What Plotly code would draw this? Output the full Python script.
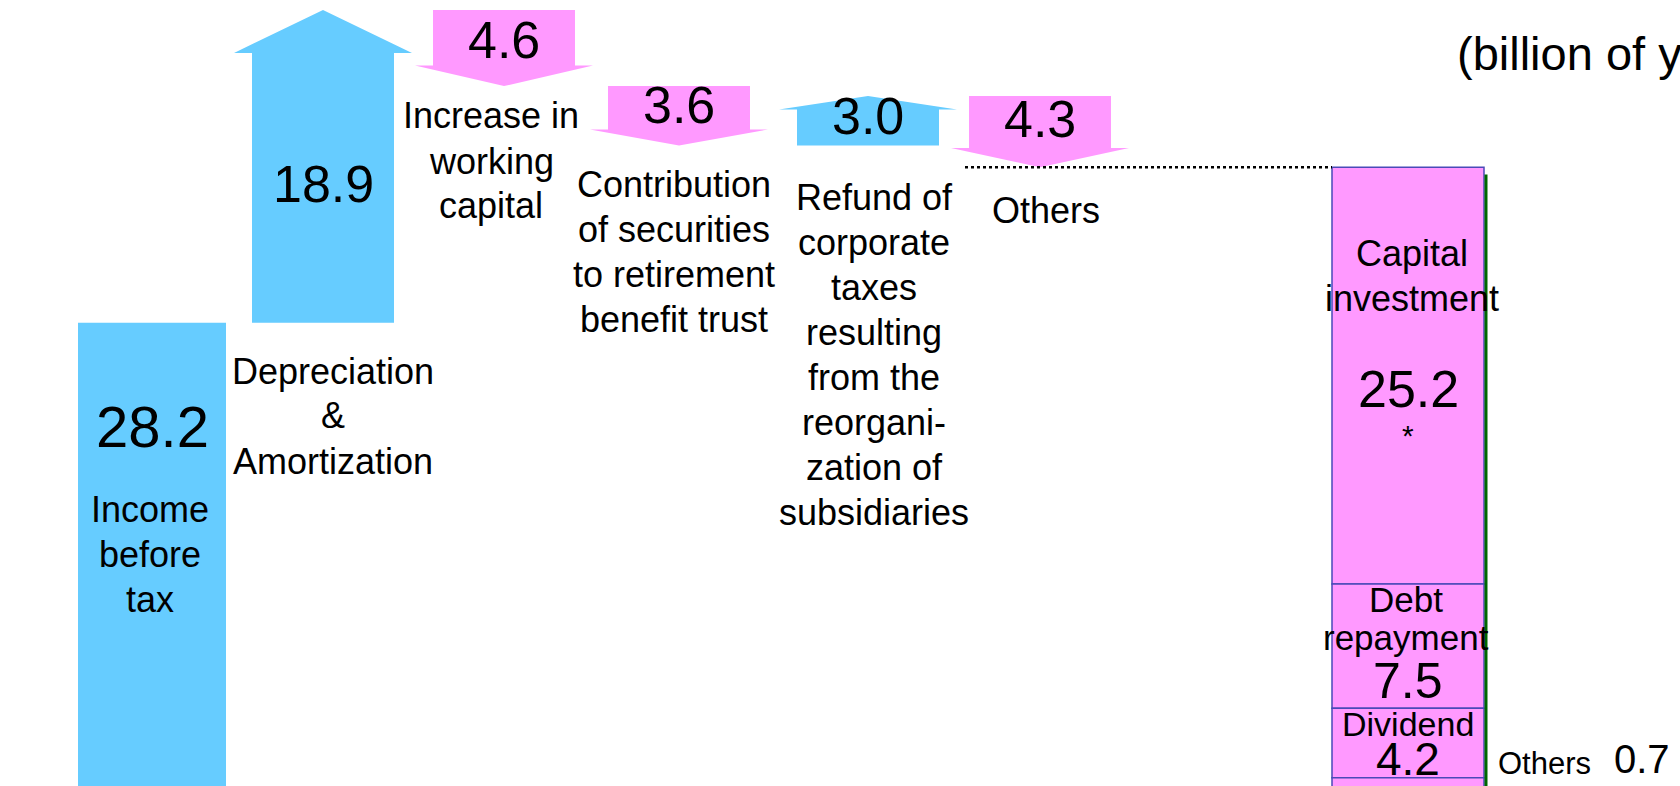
import plotly.graph_objects as go

# ---------------- data ----------------
step_labels = [
    ["Income", "before", "tax"],
    ["Depreciation", "&", "Amortization"],
    ["Increase in", "working", "capital"],
    ["Contribution", "of securities", "to retirement", "benefit trust"],
    ["Refund of", "corporate", "taxes", "resulting", "from the",
     "reorgani-", "zation of", "subsidiaries"],
    ["Others"],
]
step_values = [28.2, 18.9, -4.6, -3.6, 3.0, -4.3]

use_labels = [["Capital", "investment"], ["Debt", "repayment"], ["Dividend"], ["Others"]]
use_values = [25.2, 7.5, 4.2, 0.7]
use_notes = ["*", "", "", ""]
unit_label = "(billion of yen)"

# ---------------- layout / style ----------------
W, H = 1680, 786
Y_RANGE = [0.2, 47.7]
X_CENTERS = [152, 323, 504, 679, 868, 1040]
X_FINAL = 1408
BAR_W = 148
FINAL_W = 152
BODY_HALF = 71
HEAD_HALF = 89
BLUE = "#66CCFF"
PINK = "#FF99FF"
FONT = "Arial, Liberation Sans, sans-serif"


def paper_y(py):
    return 1 - py / H


def px_of(level):
    return (Y_RANGE[1] - level) / (Y_RANGE[1] - Y_RANGE[0]) * H


fig = go.Figure()

# cumulative levels
levels = [0.0]
for v in step_values:
    levels.append(levels[-1] + v)

# first step: plain bar
fig.add_trace(go.Bar(x=[X_CENTERS[0]], y=[step_values[0]], base=[0], width=[BAR_W],
                     marker=dict(color=BLUE, line=dict(width=0)), hoverinfo="skip"))

# remaining steps: arrows
for i in range(1, len(step_values)):
    a, b = levels[i], levels[i + 1]
    v = step_values[i]
    c = X_CENTERS[i]
    hh = min(0.27 * abs(v), 2.6)
    sgn = 1 if v > 0 else -1
    neck = b - sgn * hh
    xs = [c - BODY_HALF, c - BODY_HALF, c - HEAD_HALF, c, c + HEAD_HALF, c + BODY_HALF, c + BODY_HALF, c - BODY_HALF]
    ys = [a, neck, neck, b, neck, neck, a, a]
    fig.add_trace(go.Scatter(x=xs, y=ys, mode="lines", fill="toself",
                             fillcolor=BLUE if v > 0 else PINK,
                             line=dict(width=0, color=BLUE if v > 0 else PINK),
                             hoverinfo="skip"))

total = levels[-1]

# dotted connector at the final level
fig.add_trace(go.Scatter(x=[X_CENTERS[-1] - 75, X_FINAL - FINAL_W / 2], y=[total, total],
                         mode="lines", line=dict(color="black", width=2.5, dash="dot"),
                         hoverinfo="skip"))

# final stacked bar (uses of funds)
base = total
bases = []
for v in use_values:
    base -= v
    bases.append(base)
for v, bs in zip(use_values, bases):
    fig.add_trace(go.Bar(x=[X_FINAL], y=[v], base=[bs], width=[FINAL_W],
                         marker=dict(color=PINK, line=dict(color="#4A4AB8", width=1.5)),
                         hoverinfo="skip"))

# green shadow line on the right side of final bar
fig.add_trace(go.Scatter(x=[X_FINAL + FINAL_W / 2 + 2, X_FINAL + FINAL_W / 2 + 2],
                         y=[total - 0.45, Y_RANGE[0] - 1], mode="lines",
                         line=dict(color="#006600", width=3), hoverinfo="skip"))

annotations = []


def add_text(text, x, py, size, anchor="center"):
    annotations.append(dict(x=x, xref="x", y=paper_y(py), yref="paper", text=text,
                            showarrow=False, xanchor=anchor, yanchor="middle",
                            font=dict(family=FONT, size=size, color="black")))


def add_lines(lines, x, pcenter, size=36, spacing=45):
    n = len(lines)
    for k, ln in enumerate(lines):
        add_text(ln, x, pcenter + (k - (n - 1) / 2) * spacing, size)


def fmt(v):
    return f"{abs(v):.1f}"


# step value labels and category labels
value_px = [426, 184, 40, 105, 116, 119]
value_size = [58, 52, 52, 52, 52, 52]
label_pos = [(150, 554), (333, 416), (491, 161), (674, 252), (874, 355), (1046, 210)]
for i, v in enumerate(step_values):
    add_text(fmt(v), X_CENTERS[i], value_px[i], value_size[i])
    lx, ly = label_pos[i]
    add_lines(step_labels[i], lx, ly)

# final bar labels
seg_top_px = [px_of(bs + v) for v, bs in zip(use_values, bases)]
# Capital investment
add_lines(use_labels[0], X_FINAL + 4, 276)
add_text(fmt(use_values[0]), X_FINAL, 389, 52)
add_text(use_notes[0], X_FINAL, 436, 30)
# Debt repayment
t1 = seg_top_px[1]
add_lines(use_labels[1], X_FINAL - 2, t1 + 34, size=35, spacing=38)
add_text(fmt(use_values[1]), X_FINAL, t1 + 97, 50)
# Dividend
t2 = seg_top_px[2]
add_lines(use_labels[2], X_FINAL, t2 + 16, size=34)
add_text(fmt(use_values[2]), X_FINAL, t2 + 51, 46)
# Others (outside right)
add_text(use_labels[3][0], 1544, 763, 31)
add_text(fmt(use_values[3]), 1642, 759, 40)

# unit
add_text(unit_label, 1455, 53, 47, anchor="left")

fig.update_layout(
    width=W, height=H,
    margin=dict(l=0, r=0, t=0, b=0),
    paper_bgcolor="white", plot_bgcolor="white",
    showlegend=False, barmode="overlay", hovermode=False,
    xaxis=dict(range=[0, W], visible=False, fixedrange=True),
    yaxis=dict(range=Y_RANGE, visible=False, fixedrange=True),
    annotations=annotations,
)

fig.write_html("out.html")
